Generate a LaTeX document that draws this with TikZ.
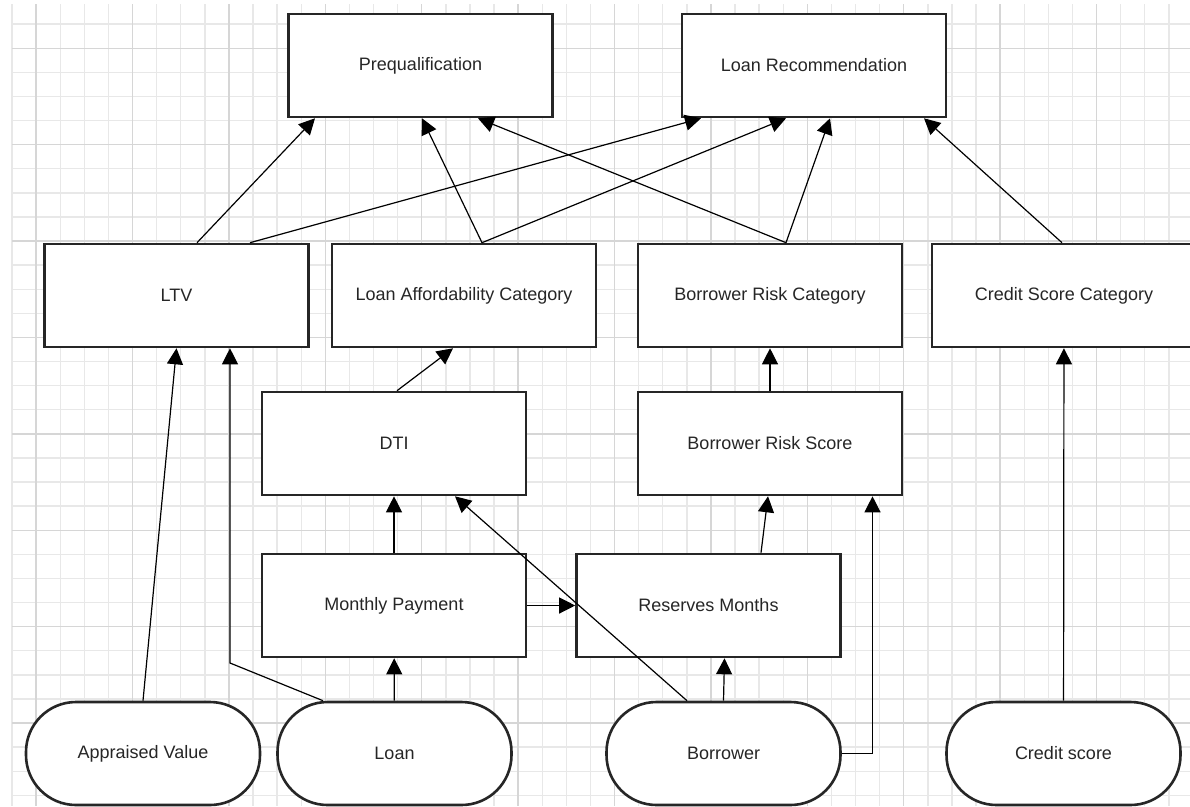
\documentclass[tikz,border=0pt]{standalone}
\usepackage{fontspec}
\setmainfont{Liberation Sans}
\usepackage{tikz}
\usetikzlibrary{arrows.meta}

\begin{document}
\begin{tikzpicture}[x=1pt, y=-1pt,
    boxnode/.style={rectangle, draw=black!85, line width=2.6pt, fill=white, minimum width=264pt, minimum height=103pt, inner sep=0pt, text=black!85, font=\fontsize{18}{20}\selectfont},
    pillnode/.style={boxnode, minimum width=234pt, rounded corners=50pt},
    gridline/.style={-, gray!18, line width=1.4pt},
    majorline/.style={-, gray!32, line width=1.4pt},
    >={Triangle[length=16pt, width=16pt]}, ->, line width=1.2pt]
    \useasboundingbox (0,0) rectangle (1190,806);
    \clip (0,0) rectangle (1190,806);
    \fill[white] (0,0) rectangle (1190,806);

    % grid paper
    \foreach \i in {0,...,48} \draw[gridline] ({12+24.1*\i},4) -- ({12+24.1*\i},806);
    \foreach \i in {1,...,33} \draw[gridline] (12,{24.1*\i}) -- (1190,{24.1*\i});
    \foreach \i in {1,5,...,45} \draw[majorline] ({12+24.1*\i},4) -- ({12+24.1*\i},806);
    \foreach \i in {2,6,...,30} \draw[majorline] (12,{24.1*\i}) -- (1190,{24.1*\i});

    \node[boxnode]  (prequal)   at (420.5,65.5)  {Prequalification};
    \node[boxnode]  (loanrec)   at (814,65.5)    {Loan Recommendation};
    \node[boxnode]  (ltv)       at (176.5,295.5) {LTV};
    \node[boxnode]  (afford)    at (464,295.5)   {Loan Affordability Category};
    \node[boxnode]  (riskcat)   at (770,295.5)   {Borrower Risk Category};
    \node[boxnode]  (credcat)   at (1064,295.5)  {Credit Score Category};
    \node[boxnode]  (dti)       at (394,443.5)   {DTI};
    \node[boxnode]  (riskscore) at (770,443.5)   {Borrower Risk Score};
    \node[boxnode]  (payment)   at (394,605.5)   {Monthly Payment};
    \node[boxnode]  (reserves)  at (708.5,605.5) {Reserves Months};
    \node[pillnode] (appraised) at (143,753.5)   {Appraised Value};
    \node[pillnode] (loan)      at (394.5,753.5) {Loan};
    \node[pillnode] (borrower)  at (723.5,753.5) {Borrower};
    \node[pillnode] (credit)    at (1063.5,753.5) {Credit score};
    \coordinate (bend) at (230,663);

    \path ([xshift=20.5pt]ltv.north) edge ([xshift=-105.5pt]prequal.south);
    \path ([xshift=73.5pt]ltv.north) edge ([xshift=-113pt]loanrec.south);
    \path ([xshift=18pt]afford.north) edge ([xshift=1.5pt]prequal.south);
    \path ([xshift=18pt]afford.north) edge ([xshift=-28pt]loanrec.south);
    \path ([xshift=16pt]riskcat.north) edge ([xshift=57.5pt]prequal.south);
    \path ([xshift=16pt]riskcat.north) edge ([xshift=16pt]loanrec.south);
    \path ([xshift=-2pt]credcat.north) edge ([xshift=110pt]loanrec.south);
    \path ([xshift=3pt]dti.north) edge ([xshift=-11pt]afford.south);
    \path (riskscore) edge (riskcat);
    \path (payment) edge (dti);
    \path ([xshift=52.5pt]reserves.north) edge ([xshift=-2pt]riskscore.south);
    \path (payment) edge (reserves);
    \path (appraised.north) edge (ltv.south);
    \draw ([xshift=-71.5pt]loan.north) -- (bend) -- (bend |- ltv.south);
    \path (loan) edge (payment);
    \path ([xshift=-36.5pt]borrower.north) edge ([xshift=61pt]dti.south);
    \path (borrower.north) edge ([xshift=16pt]reserves.south);
    \draw (borrower.east) -| ([xshift=102.5pt]riskscore.south);
    \path (credit) edge (credcat);
\end{tikzpicture}
\end{document}
